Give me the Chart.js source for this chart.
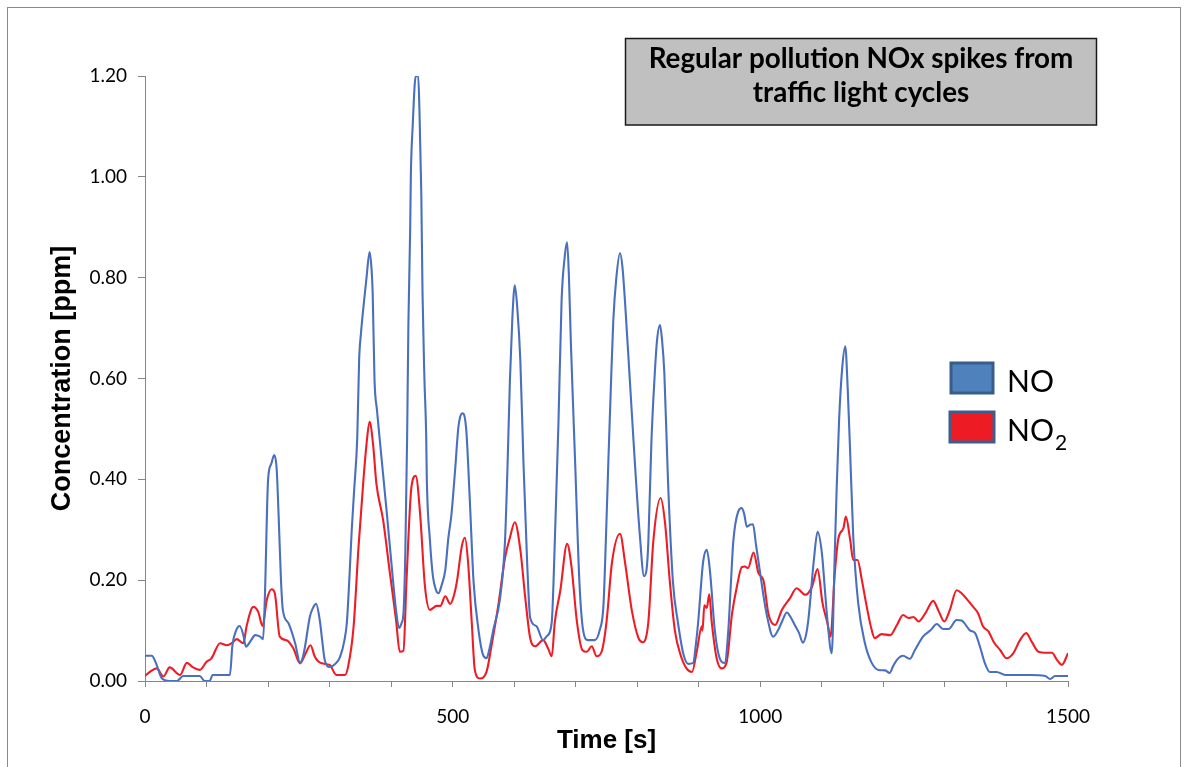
<!DOCTYPE html>
<html>
<head>
<meta charset="utf-8">
<script src="https://cdn.jsdelivr.net/npm/chart.js@4.4.0/dist/chart.umd.min.js"></script>
<style>
  html, body { margin: 0; padding: 0; background: #ffffff; }
  #wrap { width: 1185px; height: 767px; position: relative; }
  canvas { display: block; }
</style>
</head>
<body>
<div id="wrap"><canvas id="c" width="1185" height="767"></canvas></div>
<script>
// ---- Data ----
const titleLines = ["Regular pollution NOx spikes from", "traffic light cycles"];
const seriesNames = ["NO", "NO2"];
const xTitle = "Time [s]";
const yTitle = "Concentration [ppm]";
const xTickLabels = [0, 500, 1000, 1500];
const yTickLabels = [0.00, 0.20, 0.40, 0.60, 0.80, 1.00, 1.20];

const noTime = [0,11,18,27,40,52,62,89,97,105,110,138,142,148,154,160,164,172,179,187,192,195,200,205,210,214,217,221,224,233,244,252,256,260,268,273,278,284,288,292,300,310,317,324,328,332,336,340,345,348,351,355,360,365,368,370,373,377,381,393,403,408,413,417,420,423,426,428,431,432,435,440,444,446,449,451,454,457,458,463,468,473,477,482,488,493,498,504,509,512,516,522,528,534,542,549,555,560,566,577,585,589,593,597,601,605,610,615,621,626,636,647,653,661,666,672,677,682,686,689,692,699,706,712,720,731,739,745,749,753,757,761,766,772,776,780,788,796,804,811,815,818,823,828,832,837,840,844,850,858,866,875,883,891,895,899,907,913,918,926,934,942,948,952,956,964,970,974,978,983,988,993,999,1005,1010,1021,1029,1036,1043,1050,1056,1063,1069,1074,1078,1087,1093,1100,1105,1109,1116,1121,1124,1128,1133,1138,1142,1146,1151,1159,1170,1181,1192,1203,1210,1216,1222,1232,1243,1251,1265,1276,1287,1297,1306,1319,1327,1341,1349,1357,1365,1373,1384,1398,1427,1438,1463,1471,1479,1500];
const noValues = [0.05,0.05,0.035,0.006,0.0,0.0,0.01,0.01,0.0,0.0,0.012,0.012,0.07,0.10,0.109,0.09,0.068,0.08,0.091,0.088,0.083,0.174,0.399,0.43,0.448,0.42,0.333,0.20,0.141,0.115,0.075,0.036,0.045,0.068,0.128,0.145,0.153,0.121,0.08,0.042,0.028,0.035,0.048,0.08,0.115,0.20,0.30,0.38,0.485,0.637,0.69,0.742,0.80,0.851,0.82,0.77,0.597,0.537,0.485,0.333,0.20,0.14,0.105,0.115,0.134,0.25,0.485,0.703,0.90,1.0,1.10,1.20,1.20,1.132,0.968,0.77,0.604,0.485,0.40,0.28,0.207,0.18,0.174,0.19,0.22,0.284,0.33,0.419,0.50,0.523,0.531,0.499,0.355,0.196,0.101,0.053,0.045,0.065,0.101,0.164,0.276,0.42,0.595,0.72,0.785,0.74,0.635,0.435,0.236,0.125,0.109,0.081,0.089,0.117,0.276,0.515,0.754,0.84,0.870,0.80,0.674,0.435,0.196,0.101,0.081,0.081,0.101,0.149,0.28,0.435,0.58,0.714,0.80,0.849,0.82,0.754,0.595,0.435,0.292,0.208,0.22,0.276,0.475,0.60,0.674,0.706,0.68,0.611,0.395,0.196,0.117,0.053,0.034,0.036,0.07,0.117,0.236,0.260,0.220,0.101,0.045,0.036,0.101,0.19,0.276,0.336,0.343,0.33,0.306,0.31,0.311,0.27,0.220,0.17,0.134,0.088,0.101,0.12,0.136,0.125,0.111,0.095,0.076,0.09,0.121,0.240,0.296,0.254,0.18,0.121,0.055,0.254,0.38,0.518,0.62,0.664,0.58,0.452,0.286,0.155,0.075,0.036,0.022,0.021,0.016,0.03,0.042,0.050,0.044,0.061,0.089,0.100,0.113,0.103,0.103,0.121,0.120,0.100,0.095,0.068,0.035,0.018,0.018,0.012,0.012,0.012,0.010,0.004,0.010,0.010];

const no2Time = [0,8,19,30,40,57,68,78,89,100,108,122,133,141,149,160,165,176,184,191,198,206,211,219,230,241,252,260,269,276,287,300,311,325,330,339,347,355,360,365,371,376,387,398,408,414,420,425,433,440,447,455,463,474,480,488,496,501,507,515,520,525,531,536,544,555,563,574,585,593,601,610,618,626,634,647,655,661,666,675,686,693,702,711,718,726,734,742,750,759,772,780,791,802,809,818,826,838,845,853,861,870,880,889,897,905,906,909,913,917,921,929,937,945,954,962,970,975,980,989,997,1005,1013,1024,1035,1048,1059,1073,1084,1093,1101,1109,1114,1121,1127,1135,1139,1146,1151,1158,1165,1173,1181,1186,1197,1211,1222,1232,1241,1249,1257,1268,1281,1289,1299,1308,1319,1327,1338,1346,1354,1362,1371,1379,1390,1400,1411,1422,1432,1441,1452,1463,1474,1482,1490,1500];
const no2Values = [0.010,0.018,0.025,0.009,0.027,0.012,0.036,0.027,0.022,0.038,0.045,0.075,0.071,0.075,0.083,0.075,0.108,0.147,0.137,0.109,0.161,0.182,0.174,0.088,0.081,0.065,0.035,0.052,0.071,0.048,0.035,0.032,0.012,0.012,0.028,0.108,0.266,0.399,0.47,0.514,0.465,0.392,0.319,0.214,0.121,0.058,0.06,0.200,0.385,0.407,0.333,0.187,0.141,0.149,0.149,0.168,0.153,0.165,0.198,0.268,0.284,0.236,0.117,0.022,0.005,0.018,0.069,0.149,0.244,0.284,0.315,0.260,0.165,0.085,0.069,0.081,0.065,0.049,0.117,0.180,0.272,0.228,0.117,0.061,0.058,0.069,0.049,0.058,0.117,0.236,0.292,0.236,0.141,0.085,0.077,0.117,0.276,0.363,0.315,0.196,0.101,0.053,0.025,0.018,0.061,0.109,0.10,0.15,0.145,0.172,0.117,0.045,0.025,0.036,0.133,0.188,0.226,0.227,0.224,0.255,0.214,0.200,0.134,0.111,0.141,0.164,0.184,0.171,0.187,0.222,0.155,0.115,0.088,0.214,0.284,0.303,0.326,0.280,0.240,0.240,0.200,0.147,0.101,0.085,0.093,0.091,0.111,0.131,0.125,0.127,0.118,0.134,0.159,0.141,0.118,0.141,0.180,0.174,0.159,0.147,0.134,0.108,0.098,0.078,0.061,0.045,0.055,0.081,0.095,0.078,0.058,0.056,0.056,0.042,0.032,0.055];

const toPoints = (ts, vs) => ts.map((t, i) => ({ x: t, y: vs[i] }));

const decorPlugin = {
  id: 'decor',
  afterDraw(chart) {
    const ctx = chart.ctx;
    ctx.save();
    // outer frame
    ctx.strokeStyle = '#8a8a8a';
    ctx.lineWidth = 1;
    ctx.strokeRect(7.5, 7.5, 1173, 780);

    // title box
    ctx.fillStyle = '#c0c0c0';
    ctx.fillRect(625, 38, 472, 87);
    ctx.strokeStyle = '#1a1a1a';
    ctx.lineWidth = 1.5;
    ctx.strokeRect(625.5, 38.5, 471, 86.5);
    ctx.fillStyle = '#000000';
    ctx.textAlign = 'center';
    ctx.textBaseline = 'alphabetic';
    let fs = 24;
    ctx.font = 'bold ' + fs + 'px Lato';
    const w = ctx.measureText(titleLines[0]).width;
    fs = fs * 425 / w;
    ctx.font = 'bold ' + fs.toFixed(2) + 'px Lato';
    ctx.fillText(titleLines[0], 861, 68);
    ctx.fillText(titleLines[1], 861, 102);

    // legend
    ctx.lineWidth = 3;
    ctx.fillStyle = '#4f81bd';
    ctx.strokeStyle = '#385d8a';
    ctx.fillRect(951, 363, 42, 30);
    ctx.strokeRect(951, 363, 42, 30);
    ctx.fillStyle = '#ed1c24';
    ctx.strokeStyle = '#3a5f8f';
    ctx.fillRect(950, 412, 44, 30);
    ctx.strokeRect(950, 412, 44, 30);

    ctx.fillStyle = '#000000';
    ctx.textAlign = 'left';
    ctx.font = '30px Lato';
    ctx.fillText('NO', 1007, 392);
    ctx.fillText('NO', 1007, 441);
    const nw = ctx.measureText('NO').width;
    ctx.font = '21px Lato';
    ctx.fillText('2', 1007 + nw + 1, 450);
    ctx.restore();
  }
};

new Chart(document.getElementById('c'), {
  type: 'line',
  data: {
    datasets: [
      {
        label: seriesNames[0],
        data: toPoints(noTime, noValues),
        borderColor: '#4a6fbe',
        borderWidth: 2.1,
        pointRadius: 0,
        fill: false,
        cubicInterpolationMode: 'monotone'
      },
      {
        label: seriesNames[1],
        data: toPoints(no2Time, no2Values),
        borderColor: '#ee1c25',
        borderWidth: 2.1,
        pointRadius: 0,
        fill: false,
        cubicInterpolationMode: 'monotone'
      }
    ]
  },
  options: {
    responsive: false,
    devicePixelRatio: 1,
    animation: false,
    events: [],
    layout: { padding: { left: 0, top: 76, right: 117, bottom: 0 } },
    plugins: {
      legend: { display: false },
      title: { display: false },
      tooltip: { enabled: false }
    },
    scales: {
      x: {
        type: 'linear',
        min: 0,
        max: 1500,
        afterFit: (s) => { s.height = 86; },
        border: { display: true, color: '#868686', width: 1 },
        grid: { display: true, drawOnChartArea: false, drawTicks: true, tickLength: 6, color: '#868686' },
        ticks: {
          stepSize: 100,
          autoSkip: false,
          maxRotation: 0,
          padding: 18,
          color: '#000000',
          font: { family: 'Lato', size: 19 },
          callback: (v) => (xTickLabels.includes(v) ? String(v) : '')
        },
        title: {
          display: true,
          text: xTitle,
          color: '#000000',
          font: { family: 'Liberation Sans', size: 26, weight: 'bold' },
          padding: { top: 0, bottom: 11 }
        }
      },
      y: {
        min: 0,
        max: 1.2,
        afterFit: (s) => { s.width = 145; },
        afterBuildTicks: (s) => { s.ticks = yTickLabels.map(v => ({ value: v })); },
        border: { display: true, color: '#868686', width: 1 },
        grid: { display: true, drawOnChartArea: false, drawTicks: true, tickLength: 7, color: '#868686' },
        ticks: {
          padding: 11,
          color: '#000000',
          font: { family: 'Lato', size: 19 },
          callback: (v) => Number(v).toFixed(2)
        },
        title: {
          display: true,
          text: yTitle,
          color: '#000000',
          font: { family: 'Liberation Sans', size: 27, weight: 'bold' },
          padding: { top: 46, bottom: 0 }
        }
      }
    }
  },
  plugins: [decorPlugin]
});
</script>
</body>
</html>
